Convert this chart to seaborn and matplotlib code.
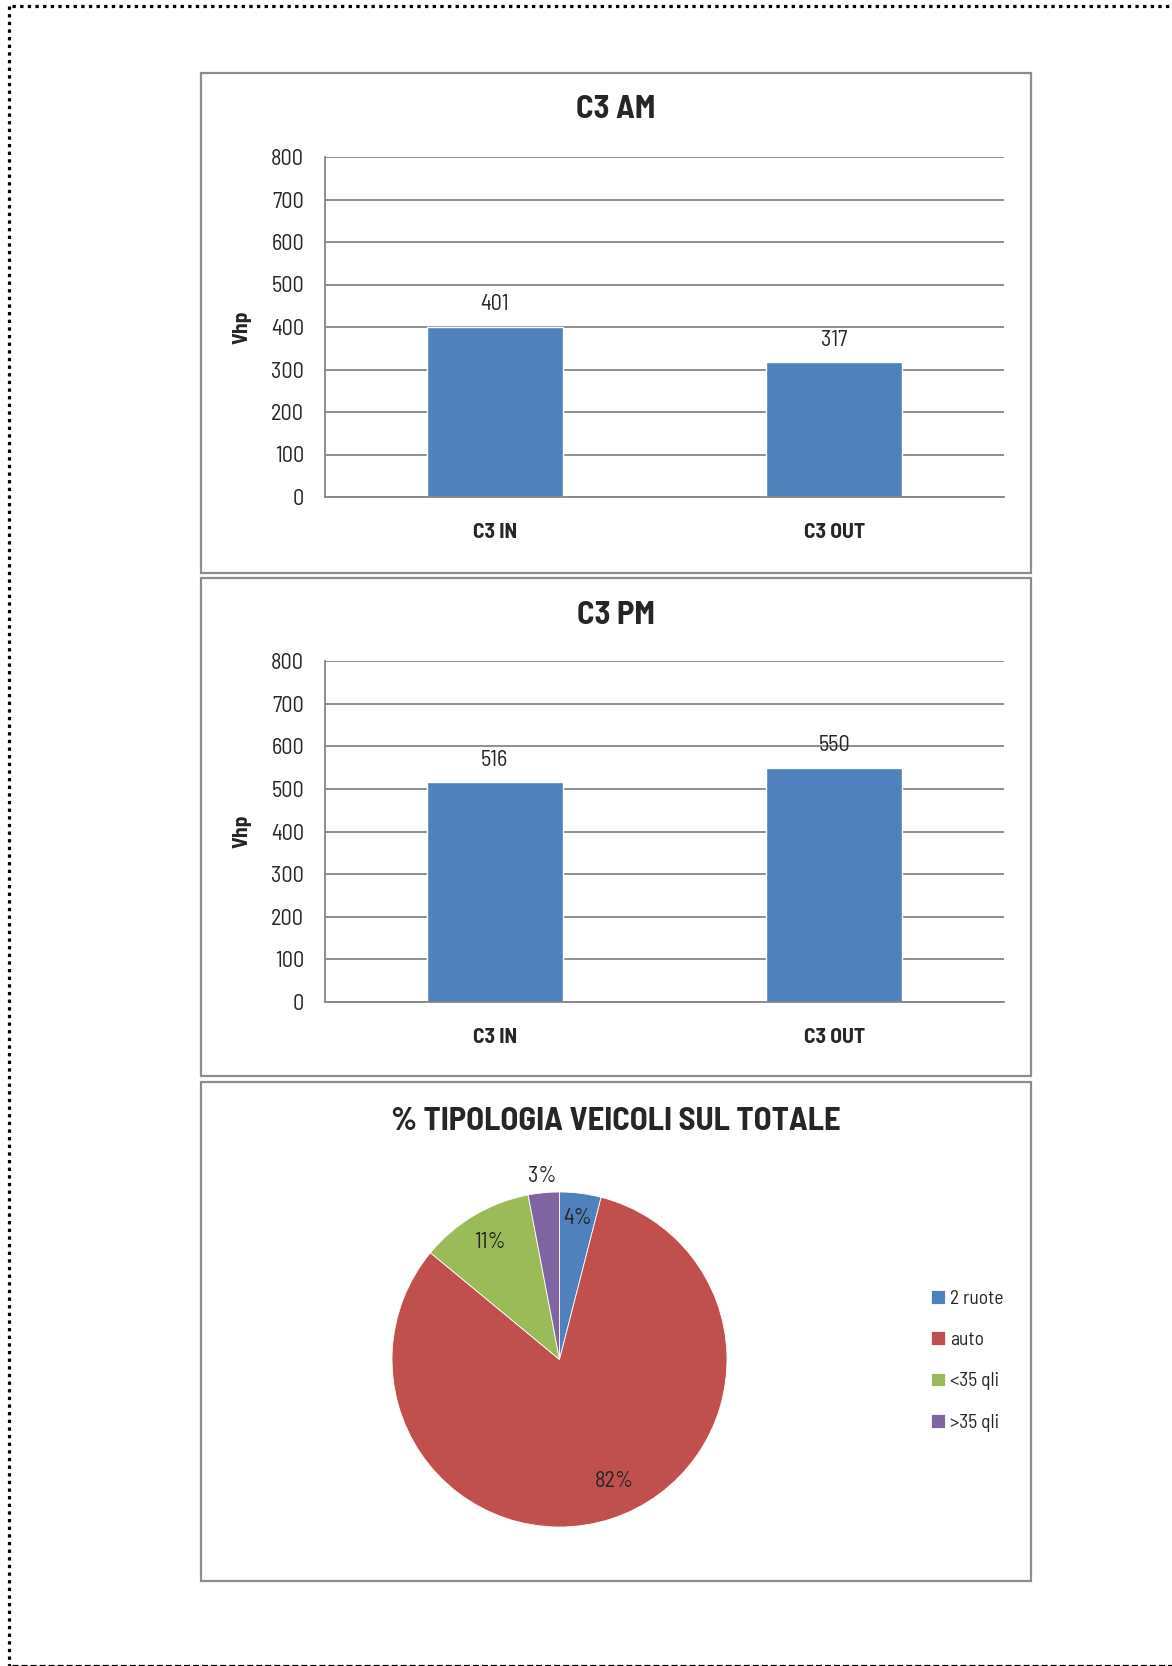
import matplotlib
matplotlib.use("Agg")
import matplotlib.pyplot as plt
import seaborn as sns
import pandas as pd
import numpy as np
from matplotlib.patches import Rectangle
from matplotlib.lines import Line2D
from matplotlib import font_manager

# ---------------- data ----------------
categories = ["C3 IN", "C3 OUT"]
am_values = [401, 317]
pm_values = [516, 550]
bar_titles = ["C3 AM", "C3 PM"]
y_ticks = [0, 100, 200, 300, 400, 500, 600, 700, 800]
y_label = "Vhp"

pie_labels = ["2 ruote", "auto", "<35 qli", ">35 qli"]
pie_values = [4, 82, 11, 3]
pie_title = "% TIPOLOGIA VEICOLI SUL TOTALE"

# ---------------- style ----------------
sns.set_theme(style="white")


def pick_font(cands):
    entries = font_manager.fontManager.ttflist
    for c in cands:
        ws = set()
        for f in entries:
            if f.name == c and f.style == "normal" and "[" not in f.fname:
                w = f.weight
                if isinstance(w, str):
                    w = {"bold": 700, "normal": 400, "regular": 400}.get(w, 400)
                ws.add(w)
        if any(w >= 600 for w in ws) and any(w <= 500 for w in ws):
            return c
    return "Liberation Sans"


narrow = pick_font(["Liberation Sans Narrow", "Arial Narrow",
                    "Barlow Semi Condensed", "Fira Sans Condensed",
                    "Liberation Sans"])
plt.rcParams["font.family"] = [narrow, "DejaVu Sans"]
plt.rcParams["lines.scale_dashes"] = False

BAR_COLOR = "#4F81BD"
PIE_COLORS = ["#4F81BD", "#C0504D", "#9BBB59", "#8064A2"]
GRID = "#868686"
FRAME = "#8C8C8C"

W, H = 1172, 1666
fig = plt.figure(figsize=(W / 100, H / 100), dpi=100)


def fx(px):
    return px / W


def fy(py):
    return 1 - py / H


# panel frames
for (top, bot) in [(73, 573), (578, 1076), (1082, 1581)]:
    fig.add_artist(Rectangle((fx(201), fy(bot)), fx(1031) - fx(201), fy(top) - fy(bot),
                             transform=fig.transFigure, fill=False,
                             edgecolor=FRAME, lw=1.6))

# dashed page border
fig.add_artist(Line2D([fx(12), 1.0], [fy(6), fy(6)], transform=fig.transFigure,
                      color="black", lw=2.3, linestyle=(0, (2.4, 3.1)),
                      dash_capstyle="butt"))
fig.add_artist(Line2D([fx(8.5), fx(8.5)], [fy(6), fy(1666)], transform=fig.transFigure,
                      color="black", lw=2.3, linestyle=(0, (2.4, 3.1)),
                      dash_capstyle="butt"))
fig.add_artist(Line2D([fx(12), 1.0], [fy(1665), fy(1665)], transform=fig.transFigure,
                      color="black", lw=0.9, linestyle=(0, (4.3, 2.2)),
                      dash_capstyle="butt"))

# ---------------- bar charts ----------------
bar_specs = [
    (am_values, bar_titles[0], 110, 157, 497),
    (pm_values, bar_titles[1], 616, 661, 1002),
]
for values, title, title_y, top, bot in bar_specs:
    ax = fig.add_axes([fx(325), fy(bot), fx(1004) - fx(325), fy(top) - fy(bot)])
    df = pd.DataFrame({"cat": categories, "val": values})
    sns.barplot(data=df, x="cat", y="val", color=BAR_COLOR, saturation=1,
                width=0.4, ax=ax, zorder=3)
    ax.set_ylim(0, 800)
    ax.set_yticks(y_ticks)
    ax.set_yticklabels([str(t) for t in y_ticks], fontsize=16)
    ax.set_xlabel("")
    ax.set_ylabel(y_label, fontsize=15.5, fontweight="bold")
    ax.yaxis.set_label_coords(-0.108, 0.5)
    for lbl in ax.get_xticklabels():
        lbl.set_fontweight("bold")
        lbl.set_fontsize(15.5)
    ax.tick_params(axis="both", length=0)
    ax.tick_params(axis="y", pad=15)
    ax.tick_params(axis="x", pad=19)
    ax.yaxis.grid(True, color=GRID, lw=1.3)
    ax.set_axisbelow(True)
    for s in ["top", "right"]:
        ax.spines[s].set_visible(False)
    for s in ["left", "bottom"]:
        ax.spines[s].set_color(GRID)
        ax.spines[s].set_linewidth(1.3)
    ax.spines["bottom"].set_zorder(4)
    for c in ax.containers:
        ax.bar_label(c, labels=[str(v) for v in values], padding=8, fontsize=16)
    fig.text(fx(616), fy(title_y), title, ha="center", va="center",
             fontsize=23.5, fontweight="bold")

# ---------------- pie chart ----------------
cx, cy, r = 559.5, 1359.5, 167.5
pax = fig.add_axes([fx(cx - r), fy(cy + r), fx(2 * r), fy(cy - r) - fy(cy + r)])
wedges, _ = pax.pie(pie_values, colors=PIE_COLORS, startangle=90, counterclock=False,
                    wedgeprops=dict(edgecolor="white", linewidth=0.6))
pax.set_xlim(-1, 1)
pax.set_ylim(-1, 1)
label_r = [0.85, 0.80, 0.81, 1.10]
label_shift = [0, 6, 0, 0]
for w, v, rr, sh in zip(wedges, pie_values, label_r, label_shift):
    mid = np.deg2rad((w.theta1 + w.theta2) / 2 + sh)
    pax.text(rr * np.cos(mid), rr * np.sin(mid), f"{v}%", ha="center", va="center",
             fontsize=16, clip_on=False)

fig.text(fx(616), fy(1121), pie_title, ha="center", va="center",
         fontsize=23.5, fontweight="bold")

fig.legend(wedges, pie_labels, loc="center left",
           bbox_to_anchor=(fx(931), fy(1360.5)), bbox_transform=fig.transFigure,
           frameon=False, fontsize=14, handlelength=0.7, handleheight=0.7,
           handletextpad=0.3, labelspacing=1.2, borderpad=0, borderaxespad=0)

fig.savefig("out.png", dpi=100, facecolor="white")
